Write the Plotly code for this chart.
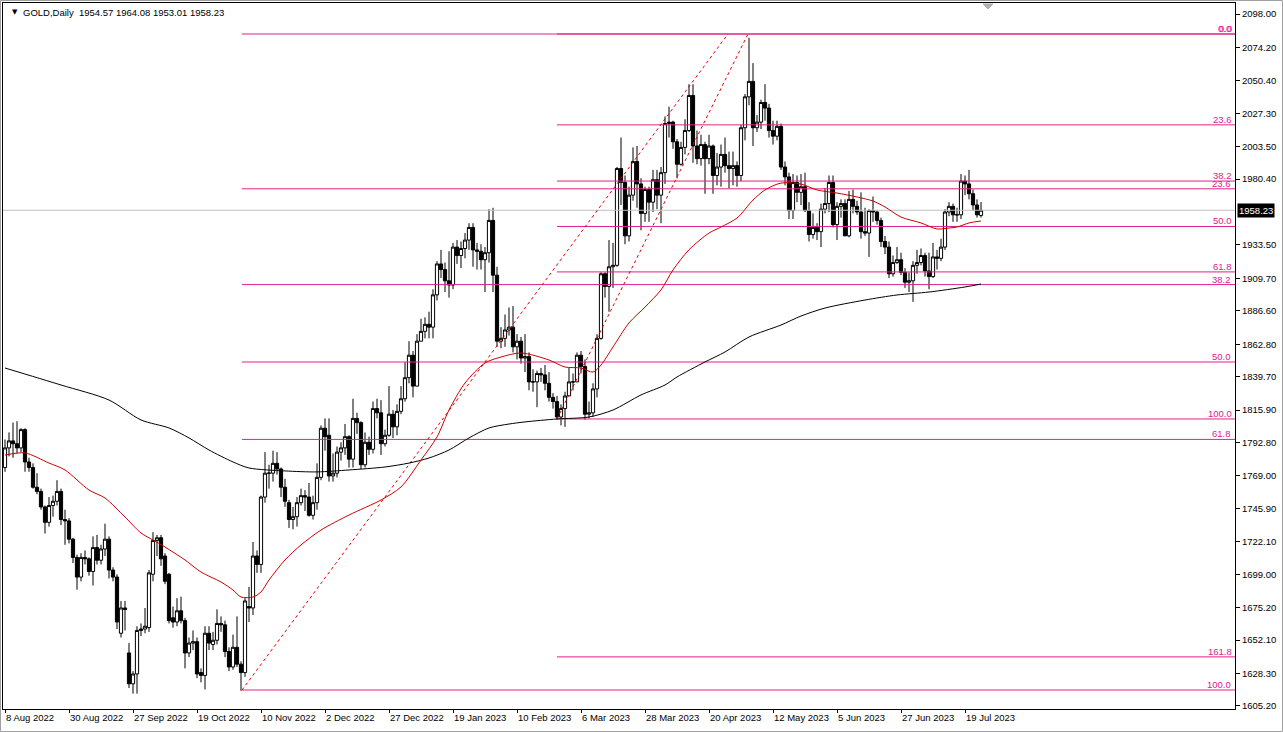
import plotly.graph_objects as go

# ---------------- data ----------------
opens = [1775,1789,1794,1792,1789,1802,1779,1775,1761,1758,1747,1736,1748,1751,1758,1738,1737,1724,1711,1697,
         1711,1710,1701,1718,1709,1717,1724,1702,1697,1657,1675,1643,1621,1628,1659,1660,1661,1699,1723,1725,
         1712,1699,1668,1665,1673,1666,1643,1650,1651,1629,1627,1657,1649,1652,1664,1663,1644,1633,1647,1635,
         1629,1676,1675,1712,1706,1754,1771,1771,1778,1774,1761,1750,1738,1740,1750,1755,1754,1741,1750,1768,
         1803,1798,1769,1771,1786,1789,1797,1781,1810,1807,1777,1793,1788,1817,1814,1792,1798,1813,1804,1815,
         1824,1839,1855,1833,1865,1872,1877,1875,1898,1920,1916,1908,1905,1932,1926,1931,1937,1946,1930,1929,
         1923,1928,1951,1912,1865,1867,1873,1875,1861,1865,1853,1854,1836,1836,1842,1841,1835,1825,1822,1811,
         1817,1826,1836,1836,1855,1847,1813,1814,1831,1867,1913,1904,1918,1919,1988,1978,1940,1969,1993,1977,
         1956,1973,1964,1980,1969,1985,2020,2021,2007,1991,2003,2015,2040,2004,1995,2005,1995,2004,1983,1989,
         1998,1990,1988,1990,1983,2017,2039,2050,2017,2021,2035,2031,2015,2011,2018,1989,1982,1958,1978,1971,
         1975,1958,1941,1946,1943,1959,1963,1978,1948,1961,1963,1940,1966,1961,1957,1943,1942,1958,1957,1951,
         1936,1932,1913,1921,1923,1914,1907,1908,1919,1921,1926,1915,1911,1925,1924,1932,1957,1961,1955,1955,
         1979,1977,1970,1962,1954.57]
highs = [1795,1800,1807,1808,1803,1803,1782,1778,1771,1760,1748,1754,1755,1766,1760,1745,1739,1725,1713,1714,
         1716,1711,1726,1727,1720,1735,1726,1704,1699,1680,1680,1650,1630,1662,1664,1675,1702,1729,1727,1727,
         1714,1700,1676,1682,1683,1668,1654,1659,1654,1632,1662,1662,1658,1674,1669,1666,1647,1656,1669,1637,
         1682,1690,1722,1716,1755,1786,1777,1787,1786,1775,1767,1752,1747,1754,1760,1759,1764,1755,1778,1805,
         1810,1810,1785,1790,1793,1806,1798,1824,1814,1808,1800,1797,1822,1824,1823,1802,1833,1816,1820,1833,
         1850,1865,1858,1870,1881,1882,1886,1902,1922,1930,1921,1929,1935,1937,1936,1942,1949,1949,1935,1934,
         1932,1959,1960,1918,1875,1884,1889,1890,1870,1868,1870,1857,1845,1844,1846,1848,1843,1828,1826,1820,
         1829,1846,1842,1857,1858,1852,1822,1835,1870,1914,1914,1937,1935,1989,2010,1983,1975,2003,2004,1981,
         1975,1975,1987,1987,1989,2025,2032,2022,2009,2007,2023,2048,2048,2015,2012,2007,2012,2005,1999,2005,
         2010,2000,2000,1993,2019,2041,2081,2063,2026,2037,2048,2034,2022,2022,2020,1993,1985,1984,1983,1984,
         1985,1964,1956,1949,1963,1974,1983,1983,1964,1966,1966,1972,1973,1965,1971,1960,1959,1968,1958,1953,
         1940,1936,1926,1932,1928,1917,1914,1922,1930,1931,1928,1928,1935,1930,1938,1959,1964,1963,1960,1984,
         1983,1987,1973,1966,1964.08]
lows = [1772,1783,1782,1785,1786,1772,1772,1760,1756,1745,1728,1733,1740,1748,1734,1720,1721,1707,1688,1694,
        1706,1698,1691,1706,1706,1712,1696,1694,1660,1654,1659,1618,1614,1614,1655,1657,1658,1694,1712,1705,
        1692,1664,1661,1662,1664,1632,1640,1645,1625,1622,1617,1645,1645,1649,1658,1640,1630,1631,1633,1616,
        1626,1665,1670,1700,1700,1750,1760,1765,1770,1754,1747,1732,1731,1733,1748,1744,1740,1738,1745,1766,
        1787,1765,1765,1768,1780,1784,1775,1775,1799,1774,1775,1784,1785,1810,1784,1790,1797,1796,1798,1813,
        1822,1835,1825,1833,1865,1867,1867,1867,1894,1910,1900,1896,1902,1920,1917,1924,1930,1918,1916,1916,
        1900,1921,1900,1861,1860,1861,1869,1857,1852,1849,1843,1830,1829,1818,1836,1830,1822,1817,1809,1805,
        1804,1826,1830,1836,1842,1809,1810,1811,1825,1866,1896,1886,1903,1918,1962,1934,1936,1965,1960,1944,
        1950,1950,1957,1959,1949,1977,2010,2002,1981,1990,1998,2014,1992,1991,1990,1970,1991,1970,1976,1975,
        1985,1974,1976,1975,1979,2008,2033,2004,2014,2016,2022,2010,2005,2008,1987,1976,1952,1952,1964,1962,
        1957,1936,1938,1937,1932,1956,1957,1946,1937,1953,1940,1939,1956,1955,1938,1940,1925,1950,1948,1932,
        1927,1910,1911,1920,1912,1903,1900,1893,1913,1919,1911,1902,1910,1916,1922,1930,1954,1950,1950,1952,
        1969,1966,1958,1953,1953.01]
closes = [1789,1794,1792,1789,1802,1779,1775,1761,1758,1747,1736,1748,1751,1758,1738,1737,1724,1711,1697,1711,
          1710,1701,1718,1709,1717,1724,1702,1697,1665,1675,1674,1621,1628,1659,1660,1662,1700,1723,1725,1710,
          1694,1666,1665,1673,1666,1643,1650,1651,1628,1627,1657,1650,1652,1664,1663,1644,1633,1647,1635,1629,
          1680,1675,1712,1706,1754,1771,1771,1778,1774,1761,1751,1738,1740,1750,1755,1754,1741,1750,1768,1803,
          1797,1769,1771,1786,1789,1797,1781,1810,1807,1777,1793,1788,1817,1814,1792,1798,1813,1804,1815,1824,
          1839,1855,1833,1865,1872,1877,1875,1898,1920,1916,1908,1905,1932,1926,1931,1937,1946,1930,1929,1923,
          1928,1951,1912,1865,1867,1873,1875,1861,1865,1853,1854,1836,1836,1842,1841,1835,1825,1822,1811,1817,
          1826,1836,1836,1855,1847,1813,1814,1831,1867,1913,1904,1918,1919,1988,1978,1940,1969,1993,1977,1956,
          1973,1964,1980,1969,1985,2020,2021,2007,1991,2003,2015,2040,2004,1995,2005,1995,2004,1983,1989,1998,
          1990,1988,1990,1983,2017,2039,2050,2017,2021,2035,2031,2015,2011,2018,1989,1982,1958,1978,1971,1975,
          1958,1941,1946,1943,1959,1963,1978,1948,1961,1963,1940,1966,1961,1957,1943,1942,1958,1957,1951,1936,
          1932,1913,1921,1923,1914,1907,1908,1919,1921,1926,1915,1911,1925,1924,1932,1957,1961,1955,1955,1979,
          1977,1970,1962,1955,1958.23]

# moving averages (bar index, price)
ma_red_idx = [0,5,11,15,21,25,30,34,37,40,45,49,54,57,59,62,64,66,70,74,79,86,94,99,104,108,111,115,120,124,
              129,136,140,144,147,149,152,156,160,164,167,171,176,179,183,187,190,194,199,203,208,213,217,220,
              224,229,233,236,238,241,244]
ma_red_val = [1783.9,1785.4,1778.2,1773.3,1759.0,1753.3,1739.8,1728.4,1723.4,1718.4,1709.2,1700.6,1693.5,1687.8,
              1682.8,1682.8,1686.4,1694.9,1709.2,1719.9,1730.5,1741.2,1751.9,1761.2,1780.4,1796.8,1816.0,1835.2,
              1849.5,1853.7,1856.6,1851.6,1846.6,1845.9,1843.0,1848.0,1860.9,1878.0,1889.3,1901.5,1915.7,1930.1,
              1942.0,1946.3,1952.7,1965.5,1972.7,1977.6,1976.9,1972.7,1970.5,1967.7,1964.8,1960.6,1953.4,1949.2,
              1944.9,1945.6,1946.3,1949.2,1950.6]
ma_black_idx = [0,14,26,34,41,46,51,57,61,70,78,86,95,101,106,111,116,121,126,130,138,146,152,159,165,168,175,
                180,186,194,199,205,215,223,231,240,244]
ma_black_val = [1845.9,1833.8,1823.1,1808.9,1803.2,1796.1,1787.5,1779.0,1774.7,1772.6,1771.9,1773.3,1775.4,1778.2,
                1781.8,1787.5,1796.1,1803.2,1806.0,1807.5,1809.6,1811.0,1816.0,1826.7,1833.8,1839.5,1850.2,1857.3,
                1868.0,1876.5,1882.9,1888.6,1894.3,1897.9,1900.0,1903.6,1905.7]

# date labels every 16 bars
date_labels = ["8 Aug 2022","30 Aug 2022","27 Sep 2022","19 Oct 2022","10 Nov 2022","2 Dec 2022",
               "27 Dec 2022","19 Jan 2023","10 Feb 2023","6 Mar 2023","28 Mar 2023","20 Apr 2023",
               "12 May 2023","5 Jun 2023","27 Jun 2023","19 Jul 2023"]
date_bar = [0,16,32,48,64,80,96,112,128,144,160,176,192,208,224,240]

# price axis labels
price_ticks = [2098.00,2074.20,2050.40,2027.30,2003.50,1980.40,1933.50,1909.70,1886.60,1862.80,1839.70,
               1815.90,1792.80,1769.00,1745.90,1722.10,1699.00,1675.20,1652.10,1628.30,1605.20]

# fibonacci objects: (start bar, 0-level price, 100-level price, levels)
fib1_start, fib1_hi, fib1_lo = 59.25, 2083.76, 1616.58
fib1_levels = [0.0, 23.6, 38.2, 50.0, 61.8, 100.0]
fib2_start, fib2_hi, fib2_lo = 138, 2083.76, 1809.6
fib2_levels = [0.0, 23.6, 38.2, 50.0, 61.8, 100.0, 161.8]
trend1 = ([59.25, 180.75], [1616.58, 2083.76])
trend2 = ([138, 185.75], [1809.6, 2083.76])

last_price = 1958.23
title_text = "GOLD,Daily  1954.57 1964.08 1953.01 1958.23"

# ---------------- figure ----------------
FIB = "#E0218A"
FONT = "Liberation Sans, Arial, sans-serif"
XMIN, XMAX = -0.5, 307.5
YMIN, YMAX = 1603.06, 2105.83
bars = list(range(len(opens)))

fig = go.Figure()

# current price line
fig.add_trace(go.Scatter(x=[XMIN, XMAX], y=[last_price, last_price], mode="lines",
                         line=dict(color="#C0C0C0", width=1), hoverinfo="skip", showlegend=False))

# fib levels
annotations = []
for start, hi, lo, levels in [(fib1_start, fib1_hi, fib1_lo, fib1_levels),
                              (fib2_start, fib2_hi, fib2_lo, fib2_levels)]:
    for lv in levels:
        p = hi - (hi - lo) * lv / 100.0
        fig.add_trace(go.Scatter(x=[start, XMAX], y=[p, p], mode="lines",
                                 line=dict(color=FIB, width=1), hoverinfo="skip", showlegend=False))
        annotations.append(dict(x=XMAX, y=p, xref="x", yref="y", text=f"{lv:.1f}",
                                xanchor="right", yanchor="bottom", showarrow=False,
                                xshift=-2 if start == fib1_start else -1, yshift=-2,
                                font=dict(family=FONT, size=9.5, color=FIB)))

# dotted trend lines of the fib objects
for tx, ty in [trend1, trend2]:
    fig.add_trace(go.Scatter(x=tx, y=ty, mode="lines",
                             line=dict(color="#E00000", width=1, dash="3px,3px"),
                             hoverinfo="skip", showlegend=False))

# moving averages
fig.add_trace(go.Scatter(x=ma_black_idx, y=ma_black_val, mode="lines",
                         line=dict(color="#000000", width=1, shape="spline", smoothing=0.8),
                         hoverinfo="skip", showlegend=False))
fig.add_trace(go.Scatter(x=ma_red_idx, y=ma_red_val, mode="lines",
                         line=dict(color="#CC0000", width=1, shape="spline", smoothing=0.8),
                         hoverinfo="skip", showlegend=False))

# candles
fig.add_trace(go.Candlestick(
    x=bars, open=opens, high=highs, low=lows, close=closes,
    increasing=dict(line=dict(color="#000000", width=1), fillcolor="#FFFFFF"),
    decreasing=dict(line=dict(color="#000000", width=1), fillcolor="#000000"),
    whiskerwidth=0, hoverinfo="skip", showlegend=False))

# header text
annotations.append(dict(x=12/1232, y=(709-12.5)/706, xref="paper", yref="paper", text="▼",
                        showarrow=False, xanchor="center", yanchor="middle",
                        font=dict(family="DejaVu Sans", size=7, color="#000000")))
annotations.append(dict(x=17.5/1232, y=(709-12.5)/706, xref="paper", yref="paper", text=title_text,
                        showarrow=False, xanchor="left", yanchor="middle",
                        font=dict(family=FONT, size=9.5, color="#000000")))
# current price box
annotations.append(dict(x=1.0, y=last_price, xref="paper", yref="y", text=f"{last_price:.2f}",
                        showarrow=False, xanchor="left", yanchor="middle", xshift=2,
                        bgcolor="#000000", borderpad=1,
                        font=dict(family=FONT, size=9.5, color="#FFFFFF")))

def px(x):
    return (x - 3) / 1232

def py(y):
    return (709 - y) / 706

# thin grey window frame around the whole picture and the chart-shift marker
shapes = [
    dict(type="rect", xref="paper", yref="paper",
         x0=px(0.5), x1=px(1282.5), y0=py(731.5), y1=py(0.5),
         line=dict(color="#A0A0A0", width=1), fillcolor="rgba(0,0,0,0)", layer="above"),
    dict(type="path", xref="paper", yref="paper",
         path=f"M {px(983)},{py(4)} L {px(993)},{py(4)} L {px(988)},{py(9)} Z",
         line=dict(color="#B0B0B0", width=1), fillcolor="#B0B0B0", layer="above"),
]

fig.update_layout(
    width=1283, height=732,
    margin=dict(l=3, r=48, t=3, b=23, pad=0),
    paper_bgcolor="#FFFFFF", plot_bgcolor="#FFFFFF",
    showlegend=False, boxgap=0.2, boxgroupgap=0,
    annotations=annotations, shapes=shapes,
    xaxis=dict(range=[XMIN, XMAX], rangeslider=dict(visible=False), showgrid=False, zeroline=False,
               tickmode="array", tickvals=date_bar, ticktext=date_labels,
               ticks="outside", ticklen=3, tickcolor="#000000",
               ticklabelposition="outside right",
               tickfont=dict(family=FONT, size=9.5, color="#000000"),
               showline=True, linecolor="#000000", linewidth=1, mirror=True),
    yaxis=dict(range=[YMIN, YMAX], side="right", showgrid=False, zeroline=False,
               tickmode="array", tickvals=price_ticks, ticktext=[f"{v:.2f}" for v in price_ticks],
               ticks="outside", ticklen=4, tickcolor="#000000",
               tickfont=dict(family=FONT, size=9.5, color="#000000"),
               showline=True, linecolor="#000000", linewidth=1, mirror=True),
)

fig.write_html("out.html", config={"displayModeBar": False},
               post_script="document.body.style.margin='0px';document.body.style.overflow='hidden';")
